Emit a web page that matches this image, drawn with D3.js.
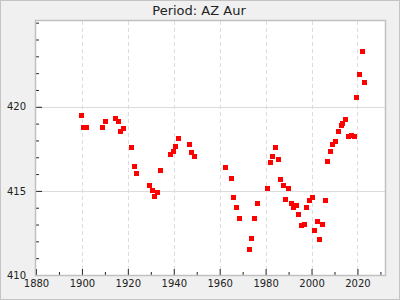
<!DOCTYPE html>
<html>
<head>
<meta charset="utf-8">
<script src="https://cdn.jsdelivr.net/npm/d3@7"></script>
<style>
  body { margin: 0; background: #f0f0f0; }
  svg { display: block; font-family: "DejaVu Sans", sans-serif; }
</style>
</head>
<body>
<script>
// O-C style period values
const years = [1899.8, 1900.7, 1902.0, 1909.0, 1910.3, 1914.6, 1915.9, 1916.8, 1918.1, 1921.6,
  1922.9, 1923.7, 1929.4, 1930.7, 1931.6, 1932.9, 1934.2, 1938.5, 1939.8, 1940.7,
  1942.0, 1946.8, 1947.7, 1949.0, 1962.4, 1965.0, 1965.9, 1967.2, 1968.5, 1972.9,
  1973.8, 1975.0, 1976.3, 1980.7, 1982.0, 1982.9, 1984.2, 1985.5, 1986.3, 1987.7,
  1989.8, 1988.5, 1991.1, 1992.0, 1993.3, 1994.2, 1995.5, 1996.8, 1997.7, 1999.0,
  2000.3, 2001.1, 2002.4, 2003.3, 2004.6, 2005.9, 2006.8, 2008.1, 2009.0, 2010.3,
  2011.6, 2012.9, 2013.7, 2015.0, 2015.9, 2017.2, 2018.5, 2019.4, 2020.7, 2022.0, 2022.9];
const periods = [419.47, 418.75, 418.75, 418.75, 419.11, 419.29, 419.11, 418.51, 418.69, 417.56,
  416.43, 416.02, 415.31, 415.01, 414.65, 414.89, 416.20, 417.15, 417.33, 417.62,
  418.10, 417.74, 417.27, 417.03, 416.38, 415.72, 414.59, 414.00, 413.35, 411.50,
  412.16, 413.35, 414.24, 415.13, 416.67, 417.03, 417.56, 416.85, 415.66, 415.31,
  415.13, 414.47, 414.24, 414.00, 414.12, 413.58, 412.93, 412.99, 414.00, 414.41,
  414.59, 412.63, 413.17, 412.10, 412.99, 414.41, 416.73, 417.33, 417.74, 417.92,
  418.51, 418.87, 418.99, 419.23, 418.22, 418.28, 418.22, 420.53, 421.90, 423.27, 421.43];

const xTicks = [1880, 1900, 1920, 1940, 1960, 1980, 2000, 2020];
const xMinor = [1890, 1910, 1930, 1950, 1970, 1990, 2010, 2030];
const yTicks = [410, 415, 420];
const yMinor = [411, 412, 413, 414, 416, 417, 418, 419, 421, 422, 423, 424, 425];
const title = "Period: AZ Aur";

const width = 400, height = 300;
const plotLeft = 36, plotRight = 385, plotTop = 21, plotBottom = 275;

const x = d3.scaleLinear().domain([1880, 2032]).range([plotLeft, plotRight]);
const y = d3.scaleLinear().domain([410, 425.1]).range([plotBottom, plotTop]);

const svg = d3.select("body").append("svg")
  .attr("width", width)
  .attr("height", height);

// outer background + border
svg.append("rect")
  .attr("x", 0.5).attr("y", 0.5)
  .attr("width", width - 1).attr("height", height - 1)
  .attr("fill", "#f0f0f0")
  .attr("stroke", "#c4c4c4");

svg.append("rect")
  .attr("x", plotLeft).attr("y", plotTop)
  .attr("width", plotRight - plotLeft).attr("height", plotBottom - plotTop)
  .attr("fill", "#fff");

// grid
svg.append("g").selectAll("line")
  .data(xTicks.slice(1))
  .join("line")
  .attr("x1", d => Math.round(x(d)) + 0.5).attr("x2", d => Math.round(x(d)) + 0.5)
  .attr("y1", plotTop).attr("y2", plotBottom)
  .attr("stroke", "#dcdcdc")
  .attr("stroke-dasharray", "4,3");

svg.append("g").selectAll("line")
  .data(yTicks.slice(1))
  .join("line")
  .attr("x1", plotLeft).attr("x2", plotRight)
  .attr("y1", d => Math.round(y(d)) + 0.5).attr("y2", d => Math.round(y(d)) + 0.5)
  .attr("stroke", "#dcdcdc")
  .attr("stroke-width", 1.2);

// axes (ticks point inward)
svg.append("g")
  .attr("transform", `translate(0,${plotBottom})`)
  .call(d3.axisBottom(x).tickValues(xTicks).tickSize(-6).tickPadding(5).tickFormat(d3.format("d")));
svg.append("g")
  .attr("transform", `translate(0,${plotBottom})`)
  .call(d3.axisBottom(x).tickValues(xMinor).tickSize(-3).tickFormat(""));

svg.append("g")
  .attr("transform", `translate(${plotLeft},0)`)
  .call(d3.axisLeft(y).tickValues(yTicks).tickSize(-6).tickPadding(10));
svg.append("g")
  .attr("transform", `translate(${plotLeft},0)`)
  .call(d3.axisLeft(y).tickValues(yMinor).tickSize(-3).tickFormat(""));

svg.selectAll(".domain").remove();
svg.selectAll(".tick line").attr("stroke", "#222");
svg.selectAll(".tick text")
  .attr("font-family", "DejaVu Sans")
  .attr("font-size", 10)
  .attr("fill", "#222");

// plot frame
svg.append("rect")
  .attr("x", plotLeft - 0.5).attr("y", plotTop - 0.5)
  .attr("width", plotRight - plotLeft + 1).attr("height", plotBottom - plotTop + 1)
  .attr("fill", "none")
  .attr("stroke", "#c0c0c0")
  .attr("stroke-width", 1.5);

// points, snapped to whole pixels so the squares stay crisp
const size = 5;
svg.append("g").selectAll("rect")
  .data(years.map((d, i) => ({year: d, value: periods[i]})))
  .join("rect")
  .attr("x", d => Math.round(x(d.year) - size / 2))
  .attr("y", d => Math.round(y(d.value) - size / 2))
  .attr("width", size).attr("height", size)
  .attr("fill", "#ff0000");

svg.append("text")
  .attr("x", 199).attr("y", 15)
  .attr("text-anchor", "middle")
  .attr("font-size", 13)
  .attr("fill", "#222")
  .text(title);
</script>
</body>
</html>
